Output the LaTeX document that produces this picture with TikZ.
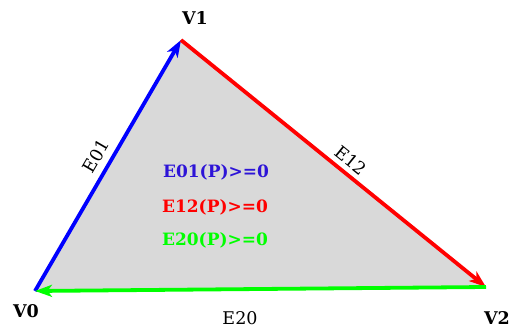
\documentclass[tikz,border=0pt]{standalone}
\usepackage{fontspec}
\setmainfont{DejaVu Serif}
\usetikzlibrary{arrows.meta}
\definecolor{ebluetext}{RGB}{45,20,215}
\definecolor{tri}{RGB}{217,217,217}
\begin{document}
\begin{tikzpicture}[x=1pt,y=-1pt,
  edge/.style={line width=3.8pt,-{Stealth[length=17pt,width=12pt,inset=4.5pt]}},
  vlab/.style={font=\fontsize{17.5}{20}\selectfont\bfseries},
  elab/.style={font=\fontsize{17.5}{20}\selectfont},
  cond/.style={font=\fontsize{17}{20}\selectfont\bfseries}]
\useasboundingbox (0,0) rectangle (511,331);
\coordinate (v0) at (35,291);
\coordinate (v1) at (181,40);
\coordinate (v2) at (486,287);
\fill[tri] (v0) -- (v1) -- (v2) -- cycle;
\draw[edge,blue] (v0) -- (v1);
\draw[edge,red] (v1) -- (v2);
\draw[edge,green] (v2) -- (v0);
\node[vlab] (l1) at (195,18) {V1};
\node[vlab] (l0) at (26,311) {V0};
\node[vlab] (l2) at (497,318) {V2};
\node[elab,rotate=59.8] (e01) at (96,156) {E01};
\node[elab,rotate=-39] (e12) at (351,160) {E12};
\node[elab] (e20) at (240,318) {E20};
\node[cond,text=ebluetext] (c1) at (216,172) {E01(P)>=0};
\node[cond,text=red] (c2) at (215,207) {E12(P)>=0};
\node[cond,text=green] (c3) at (215,240) {E20(P)>=0};
\end{tikzpicture}
\end{document}
